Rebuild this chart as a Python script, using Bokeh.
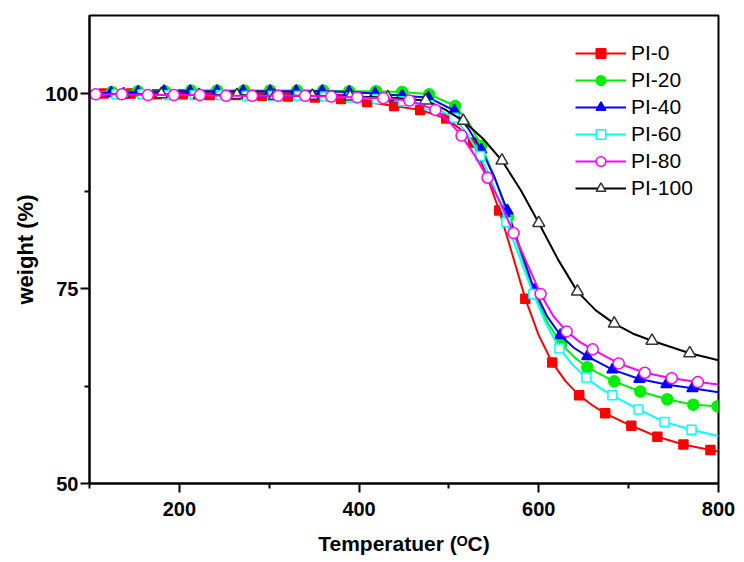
from bokeh.plotting import figure
from bokeh.models import Range1d, FixedTicker, Legend, LegendItem
from bokeh.embed import file_html
from bokeh.resources import INLINE

# ---------------- data ----------------
series_names = ["PI-0", "PI-20", "PI-40", "PI-60", "PI-80", "PI-100"]

# PI-0 (red, filled squares)
t_pi0 = [116, 146, 175, 204, 234, 263, 292, 321, 351, 380, 409, 439, 468, 497, 527, 556,
         585, 615, 645, 674, 703, 732, 761, 791]
w_pi0 = [100.0, 100.0, 99.9, 99.9, 99.8, 99.8, 99.7, 99.6, 99.5, 99.3, 98.9, 98.4, 97.9, 96.8, 93.7, 85.0,
         73.7, 65.5, 61.3, 59.0, 57.4, 56.0, 55.0, 54.3]
t_pi0_extra = [100, 512, 541, 570.5, 600, 630, 660, 800]
w_pi0_extra = [100.0, 95.5, 89.8, 79.4, 69.0, 63.1, 60.0, 54.1]

# PI-20 (green, filled circles)
t_pi20 = [125, 154, 184, 213, 242, 272, 301, 331, 360, 389, 419, 448, 478, 507, 536, 566,
          595, 625, 654, 684, 713, 743, 772, 799]
w_pi20 = [100.2, 100.3, 100.3, 100.4, 100.4, 100.4, 100.4, 100.4, 100.4, 100.3, 100.3, 100.2, 99.9, 98.4, 93.3, 84.2,
          74.4, 67.9, 64.9, 63.1, 61.8, 60.8, 60.1, 59.9]
t_pi20_extra = [100, 522, 551, 580.5, 610, 639.5, 800]
w_pi20_extra = [100.1, 96.3, 89.2, 79.3, 70.6, 66.2, 59.85]

# PI-40 (blue, filled triangles)
t_pi40 = [124, 154, 183, 212, 242, 271, 301, 330, 359, 389, 418, 448, 477, 506, 536, 565,
          595, 624, 654, 682, 712, 742, 771]
w_pi40 = [100.1, 100.2, 100.3, 100.3, 100.3, 100.3, 100.3, 100.3, 100.3, 100.2, 100.0, 99.7, 99.5, 97.8, 92.8, 85.0,
          74.8, 69.0, 66.3, 64.6, 63.4, 62.7, 62.2]
t_pi40_extra = [100, 521, 550.5, 580, 609.5, 639, 800]
w_pi40_extra = [100.0, 95.6, 89.3, 79.9, 71.4, 67.4, 61.7]

# PI-60 (cyan, open squares)
t_pi60 = [130, 159, 188, 217, 246, 275, 304, 333, 362, 391, 420, 449, 478, 506, 535, 564,
          594, 623, 653, 682, 711, 740, 770]
w_pi60 = [99.9, 99.9, 99.8, 99.8, 99.8, 99.7, 99.7, 99.7, 99.6, 99.5, 99.3, 99.0, 98.5, 96.9, 92.0, 83.5,
          74.3, 67.3, 63.6, 61.3, 59.5, 57.9, 56.9]
t_pi60_extra = [100, 520.5, 549.5, 579, 608.5, 638, 667.5, 800]
w_pi60_extra = [99.9, 94.8, 88.2, 78.9, 70.4, 65.2, 62.3, 56.1]

# PI-80 (magenta, open circles)
t_pi80 = [107, 136, 165, 194, 223, 252, 281, 310, 340, 369, 398, 427, 456, 485, 514, 543,
          572, 602, 631, 660, 689, 718, 748, 777]
w_pi80 = [99.9, 99.9, 99.8, 99.8, 99.8, 99.7, 99.7, 99.7, 99.7, 99.6, 99.5, 99.4, 99.1, 97.9, 94.6, 89.2,
          82.1, 74.3, 69.5, 67.2, 65.4, 64.2, 63.5, 63.0]
t_pi80_extra = [100, 499.5, 528.5, 557.8, 587, 616, 645, 800]
w_pi80_extra = [99.9, 96.5, 92.1, 85.9, 78.2, 71.5, 68.2, 62.7]

# PI-100 (black, open triangles)
t_pi100 = [138, 180, 222, 264, 306, 348, 390, 432, 474, 516, 559, 600, 643, 684, 726, 768]
w_pi100 = [99.9, 99.9, 99.8, 99.8, 99.7, 99.7, 99.6, 99.5, 99.1, 96.5, 91.4, 83.4, 74.6, 70.5, 68.3, 66.7]
t_pi100_extra = [100, 495, 538, 580, 621.5, 663.5, 705, 800]
w_pi100_extra = [100.0, 98.0, 94.2, 87.6, 78.7, 72.2, 69.2, 65.8]

x_major = [200, 400, 600, 800]
x_minor = [100, 300, 500, 700]
y_major = [50, 75, 100]
y_minor = [62.5, 87.5]

x_title = "Temperatuer (\u1D3CC)"
y_title = "weight (%)"

# ---------------- figure ----------------
p = figure(width=736, height=560, x_range=Range1d(100, 800), y_range=Range1d(50, 110),
           output_backend="svg", toolbar_location=None,
           min_border_left=89, min_border_right=18, min_border_top=15, min_border_bottom=77)
p.xgrid.visible = False
p.ygrid.visible = False
p.outline_line_color = "black"
p.outline_line_width = 2
p.background_fill_color = "white"
p.border_fill_color = "white"

p.xaxis.ticker = FixedTicker(ticks=x_major, minor_ticks=x_minor)
p.yaxis.ticker = FixedTicker(ticks=y_major, minor_ticks=y_minor)

for ax in (p.xaxis[0], p.yaxis[0]):
    ax.axis_line_width = 2
    ax.axis_line_color = "black"
    ax.major_tick_line_width = 2
    ax.minor_tick_line_width = 2
    ax.major_tick_out = 9
    ax.major_tick_in = 0
    ax.minor_tick_out = 5
    ax.minor_tick_in = 0
    ax.major_label_text_font = "Liberation Sans"
    ax.major_label_text_font_style = "bold"
    ax.major_label_text_font_size = "20px"
    ax.major_label_text_color = "black"
    ax.axis_label_text_font = "Liberation Sans"
    ax.axis_label_text_font_style = "bold"
    ax.axis_label_text_color = "black"

p.xaxis.major_label_standoff = 9
p.yaxis.major_label_standoff = 2
p.yaxis.axis_label = y_title
p.yaxis.axis_label_text_font_size = "22px"
p.yaxis.axis_label_standoff = 4
p.xaxis.axis_label = x_title
p.xaxis.axis_label_text_font_size = "21px"
p.xaxis.axis_label_standoff = 13

styles = {
    "PI-0":   dict(color="#FF0000", marker="square",   size=9,  fill="#FF0000"),
    "PI-20":  dict(color="#00EE00", marker="circle",   size=11, fill="#00EE00"),
    "PI-40":  dict(color="#0000FF", marker="triangle", size=11, fill="#0000FF"),
    "PI-60":  dict(color="#00FFFF", marker="square",   size=9,  fill="white"),
    "PI-80":  dict(color="#FF00FF", marker="circle",   size=11, fill="white"),
    "PI-100": dict(color="#000000", marker="triangle", size=12, fill="white"),
}
data = {
    "PI-0": (t_pi0, w_pi0, t_pi0_extra, w_pi0_extra),
    "PI-20": (t_pi20, w_pi20, t_pi20_extra, w_pi20_extra),
    "PI-40": (t_pi40, w_pi40, t_pi40_extra, w_pi40_extra),
    "PI-60": (t_pi60, w_pi60, t_pi60_extra, w_pi60_extra),
    "PI-80": (t_pi80, w_pi80, t_pi80_extra, w_pi80_extra),
    "PI-100": (t_pi100, w_pi100, t_pi100_extra, w_pi100_extra),
}

renderers = {}
draw_order = ["PI-0", "PI-20", "PI-40", "PI-60", "PI-100", "PI-80"]
for name in draw_order:
    tm, wm, te, we = data[name]
    pts = sorted(zip(list(tm) + list(te), list(wm) + list(we)))
    lx = [a for a, b in pts]
    ly = [b for a, b in pts]
    st = styles[name]
    lr = p.line(lx, ly, line_color=st["color"], line_width=2)
    sr = p.scatter(tm, wm, marker=st["marker"], size=st["size"], fill_color=st["fill"],
                   line_color=st["color"] if name != "PI-100" else "#333333", line_width=1.5)
    renderers[name] = [lr, sr]

legend = Legend(items=[LegendItem(label=n, renderers=renderers[n]) for n in series_names],
                location=(486, 283))
legend.margin = 0
legend.padding = 5
legend.spacing = 3
legend.glyph_width = 51
legend.glyph_height = 24
legend.label_height = 24
legend.label_standoff = 5
legend.label_text_font = "Liberation Sans"
legend.label_text_font_size = "21px"
legend.label_text_color = "black"
legend.background_fill_alpha = 0
legend.border_line_color = None
p.add_layout(legend)

open("out.html", "w").write(file_html(p, INLINE))
